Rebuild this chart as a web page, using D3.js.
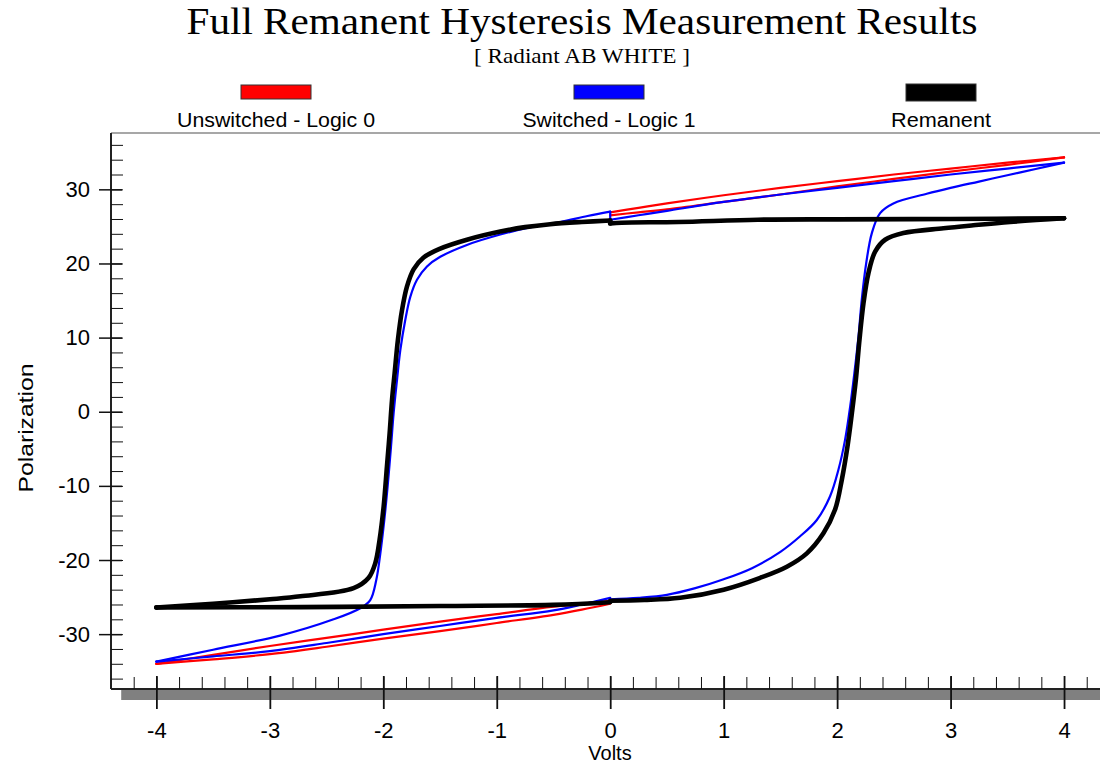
<!DOCTYPE html>
<html>
<head>
<meta charset="utf-8">
<script src="https://cdn.jsdelivr.net/npm/d3@7"></script>
<style>
  body { margin: 0; background: #fff; }
  svg { display: block; }
</style>
</head>
<body>
<div id="chart"></div>
<script>
// ---- data: [volts, polarization] ----
// Unswitched - Logic 0 (two thin half loops, no switching)
const unswUpOut = [[0,26.9],[0.25,27.5],[0.5,28.1],[1,29.2],[1.5,30.2],[2,31.1],[2.5,32.0],[3,32.8],[3.5,33.6],[4,34.3]]
const unswUpBack = [[4,34.3],[3.5,33.3],[3,32.4],[2.5,31.4],[2,30.4],[1.5,29.3],[1,28.3],[0.5,27.3],[0.25,26.9],[0,26.5]]
const unswDnOut = [[0,-25.9],[-0.25,-26.7],[-0.5,-27.4],[-1,-28.5],[-1.5,-29.6],[-2,-30.6],[-2.5,-31.7],[-3,-32.7],[-3.5,-33.4],[-4,-34.0]]
const unswDnBack = [[-4,-34.0],[-3.5,-32.8],[-3,-31.6],[-2.5,-30.5],[-2,-29.4],[-1.5,-28.3],[-1,-27.3],[-0.5,-26.3],[0,-25.5]]

// Switched - Logic 1 (full loop)
const swRise = [[0,-25.3],[0.25,-25.1],[0.5,-24.7],[0.75,-23.8],[1.0,-22.6],[1.25,-21.1],[1.5,-18.9],[1.674,-16.8],[1.821,-14.6],
  [1.938,-11.4],[2.012,-7.8],[2.07,-3.8],[2.115,0.7],[2.152,5.2],[2.188,10.1],[2.217,15.1],[2.256,20.0],[2.306,24.1],
  [2.379,26.8],[2.496,28.1],[2.79,29.4],[3.0,30.2],[3.25,31.05],[3.5,31.9],[3.75,32.75],[4,33.6]]
const swBackUp = [[4,33.6],[3.5,32.8],[3,32.0],[2.5,31.1],[2,30.2],[1.5,29.3],[1,28.3],[0.5,27.1],[0.25,26.5],[0,25.9]]
const swFall = [[0,27.0],[-0.2,26.4],[-0.44,25.6],[-0.7,24.9],[-0.969,23.9],[-1.263,22.5],[-1.498,20.9],[-1.615,19.6],[-1.703,17.8],
  [-1.762,15.5],[-1.806,12.4],[-1.85,8.3],[-1.879,4.3],[-1.909,-0.2],[-1.932,-4.7],[-1.962,-10.1],[-1.991,-14.6],
  [-2.026,-19.1],[-2.062,-22.7],[-2.115,-25.4],[-2.203,-26.5],[-2.438,-28.0],[-2.91,-30.2],[-3.5,-32.1],[-4,-33.7]]
const swBackDn = [[-4,-33.7],[-3.5,-33.0],[-3,-32.3],[-2.5,-31.2],[-2,-30.0],[-1.5,-28.9],[-1,-27.8],[-0.5,-26.8],[-0.25,-26.0],[0,-25.1]]

// Remanent (full loop, flat returns)
const remRise = [[0,-25.5],[0.3,-25.4],[0.617,-25.1],[1.0,-24.0],[1.322,-22.4],[1.557,-20.9],[1.733,-19.1],[1.879,-16.4],
  [1.982,-13.2],[2.041,-9.2],[2.091,-4.7],[2.13,-0.2],[2.165,4.3],[2.197,9.7],[2.232,14.6],[2.276,18.7],[2.335,21.6],
  [2.423,23.2],[2.584,24.1],[2.937,24.75],[3.2,25.15],[3.524,25.6],[4,26.1]]
const remBackUp = [[4,26.1],[3,26.0],[2,25.95],[1.3,25.9],[0.6,25.6],[0.1,25.5],[0,25.4]]
const remFall = [[0,25.8],[-0.25,25.6],[-0.529,25.3],[-0.75,24.9],[-0.969,24.3],[-1.263,23.2],[-1.498,22.0],[-1.645,20.8],
  [-1.733,19.2],[-1.791,16.9],[-1.835,13.7],[-1.871,9.7],[-1.9,5.2],[-1.923,1.6],[-1.944,-2.9],[-1.968,-7.4],[-1.997,-12.8],
  [-2.033,-17.3],[-2.07,-20.4],[-2.129,-22.4],[-2.262,-23.8],[-2.731,-24.9],[-3,-25.3],[-3.5,-25.9],[-4,-26.4]]
const remBackDn = [[-4,-26.4],[-2.73,-26.35],[-1.5,-26.2],[-0.5,-26.05],[0,-25.7]]

const xMajor = [-4, -3, -2, -1, 0, 1, 2, 3, 4]
const yMajor = [-30, -20, -10, 0, 10, 20, 30]
const xMinor = d3.range(-42, 43, 2).map(d => d / 10)
const yMinor = d3.range(-36, 37, 2)

const series = [
  { name: "Unswitched - Logic 0", color: "#ff0000", width: 2.2, labelW: 198, loops: [[unswUpOut, unswUpBack], [unswDnOut, unswDnBack]] },
  { name: "Switched - Logic 1", color: "#0000ff", width: 2.2, labelW: 173, loops: [[swRise, swBackUp, swFall, swBackDn]] },
  { name: "Remanent", color: "#000000", width: 4.6, labelW: 100, loops: [[remRise, remBackUp, remFall, remBackDn]] }
]

// ---- layout ----
const width = 1100, height = 766
const sans = "'Liberation Sans', Arial, sans-serif"
const serif = "'Liberation Serif', 'Times New Roman', serif"

const svg = d3.select("#chart").append("svg")
  .attr("width", width)
  .attr("height", height)

const x = d3.scaleLinear().domain([-4.4, 4.317]).range([111, 1100])
const y = d3.scaleLinear().domain([-37.4, 37.6]).range([689, 133])

// title
svg.append("text")
  .attr("x", 582).attr("y", 34)
  .attr("text-anchor", "middle")
  .attr("textLength", 791).attr("lengthAdjust", "spacingAndGlyphs")
  .style("font-family", serif).style("font-size", "38px")
  .text("Full Remanent Hysteresis Measurement Results")

svg.append("text")
  .attr("x", 582).attr("y", 63)
  .attr("text-anchor", "middle")
  .attr("textLength", 216).attr("lengthAdjust", "spacingAndGlyphs")
  .style("font-family", serif).style("font-size", "22px")
  .text("[ Radiant AB WHITE ]")

// legend
const legendX = [276, 609, 941]
const legend = svg.append("g").selectAll("g")
  .data(series)
  .enter().append("g")
  .attr("transform", (d, i) => `translate(${legendX[i]},0)`)

legend.append("rect")
  .attr("x", -35)
  .attr("y", d => d.width > 3 ? 84 : 85)
  .attr("width", 70)
  .attr("height", d => d.width > 3 ? 17 : 14)
  .attr("fill", d => d.color)
  .attr("stroke", "#333")
  .attr("stroke-width", 1)

legend.append("text")
  .attr("y", 127)
  .attr("text-anchor", "middle")
  .attr("textLength", d => d.labelW).attr("lengthAdjust", "spacingAndGlyphs")
  .style("font-family", sans).style("font-size", "20px")
  .text(d => d.name)

// frame: top line, grey bar under x axis
svg.append("line")
  .attr("x1", x(-4.4)).attr("x2", x(4.317))
  .attr("y1", y(37.6)).attr("y2", y(37.6))
  .attr("stroke", "#8a8a8a").attr("stroke-width", 1.5)

svg.append("rect")
  .attr("x", x(-4.31)).attr("y", y(-37.4))
  .attr("width", x(4.317) - x(-4.31)).attr("height", 11)
  .attr("fill", "#808080")

// axis lines
svg.append("line")
  .attr("x1", x(-4.4)).attr("x2", x(4.317))
  .attr("y1", y(-37.4)).attr("y2", y(-37.4))
  .attr("stroke", "#222").attr("stroke-width", 2)

svg.append("line")
  .attr("x1", x(-4.4)).attr("x2", x(-4.4))
  .attr("y1", y(37.6)).attr("y2", y(-37.4))
  .attr("stroke", "#222").attr("stroke-width", 2)

const fmt = d => String(d)

// x ticks
svg.append("g")
  .attr("transform", `translate(0,${y(-37.4)})`)
  .call(d3.axisTop(x).tickValues(xMinor).tickSize(12).tickFormat(""))
  .call(g => g.select(".domain").remove())

svg.append("g")
  .attr("transform", `translate(0,${y(-37.4) - 13})`)
  .call(d3.axisBottom(x).tickValues(xMajor).tickSize(33).tickPadding(13).tickFormat(fmt))
  .call(g => g.select(".domain").remove())
  .call(g => g.selectAll(".tick line").attr("stroke-width", 1.8))

// y ticks
svg.append("g")
  .attr("transform", `translate(${x(-4.4)},0)`)
  .call(d3.axisRight(y).tickValues(yMinor).tickSize(12).tickFormat(""))
  .call(g => g.select(".domain").remove())

svg.append("g")
  .attr("transform", `translate(${x(-4.4) + 11},0)`)
  .call(d3.axisLeft(y).tickValues(yMajor).tickSize(23).tickPadding(9).tickFormat(fmt))
  .call(g => g.select(".domain").remove())
  .call(g => g.selectAll(".tick line").attr("stroke-width", 1.5))

svg.selectAll(".tick text")
  .style("font-family", sans).style("font-size", "22px").attr("fill", "#000")
svg.selectAll(".tick line").attr("stroke", "#111")

// axis titles
svg.append("text")
  .attr("x", 610).attr("y", 760)
  .attr("text-anchor", "middle")
  .style("font-family", sans).style("font-size", "20px")
  .text("Volts")

svg.append("text")
  .attr("transform", "translate(33,428) rotate(-90)")
  .attr("text-anchor", "middle")
  .attr("textLength", 129).attr("lengthAdjust", "spacingAndGlyphs")
  .style("font-family", sans).style("font-size", "21px")
  .text("Polarization")

// curves
const curve = d3.line().x(d => x(d[0])).y(d => y(d[1])).curve(d3.curveCatmullRom.alpha(0.5))
const straight = d3.line().x(d => x(d[0])).y(d => y(d[1]))

const gCurves = svg.append("g").attr("fill", "none").attr("stroke-linejoin", "round").attr("stroke-linecap", "round")

series.forEach(s => {
  s.loops.forEach(loop => {
    loop.forEach((branch, i) => {
      gCurves.append("path")
        .attr("d", curve(branch))
        .attr("stroke", s.color)
        .attr("stroke-width", s.width)
      if (i > 0) {
        gCurves.append("path")
          .attr("d", straight([loop[i - 1][loop[i - 1].length - 1], branch[0]]))
          .attr("stroke", s.color)
          .attr("stroke-width", s.width)
      }
    })
  })
})
</script>
</body>
</html>
